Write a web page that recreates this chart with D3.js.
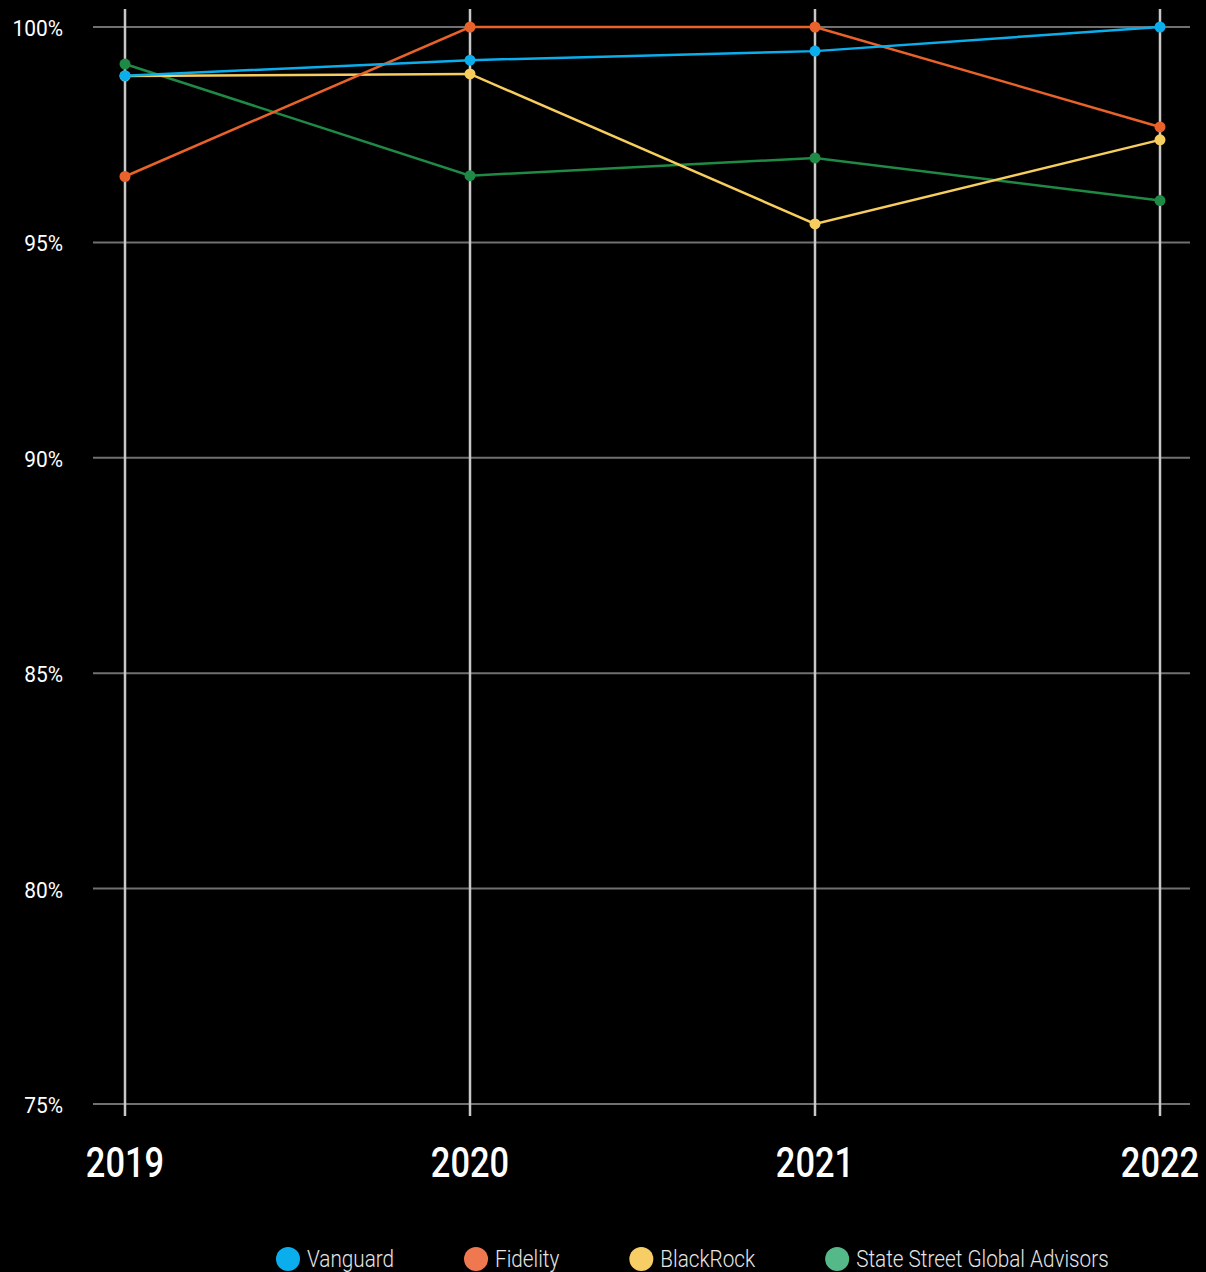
<!DOCTYPE html>
<html>
<head>
<meta charset="utf-8">
<title></title>
<script src="https://d3js.org/d3.v7.min.js"></script>
<style>
  html, body { margin: 0; padding: 0; background: #000; }
  svg { display: block; font-family: Roboto, "DejaVu Sans", sans-serif; }
</style>
</head>
<body>
<div id="chart"></div>
<script>
var years = ["2019", "2020", "2021", "2022"];
var yTicks = [75, 80, 85, 90, 95, 100];
var seriesNames = ["Vanguard", "Fidelity", "BlackRock", "State Street Global Advisors"];
var vanguard = [98.87, 99.23, 99.44, 100];
var fidelity = [96.53, 100, 100, 97.68];
var blackrock = [98.86, 98.91, 95.43, 97.38];
var stateStreet = [99.14, 96.55, 96.96, 95.97];
var lineColors = ["#0aaeec", "#e8622a", "#f7cd5e", "#1f8a45"];
var legendColors = ["#0aaeec", "#f07850", "#f7cd66", "#55b889"];

// narrow the text a bit, the original uses a condensed face
function squeeze(sel, sx) {
    sel.attr("transform", function() {
        var t = d3.select(this);
        return "translate(" + t.attr("data-x") + "," + t.attr("data-y") + ") scale(" + sx + ",1)";
    });
}

function drawChart() {
    var svg = d3.select("#chart").append("svg")
        .attr("width", 1206)
        .attr("height", 1272);

    var x = d3.scalePoint().domain(years).range([125, 1160]);
    var y = d3.scaleLinear().domain([75, 100]).range([1104, 27]);

    // horizontal grid
    svg.append("g")
        .selectAll("line")
        .data(yTicks)
        .enter().append("line")
        .attr("x1", 93).attr("x2", 1190)
        .attr("y1", function(d) { return y(d); })
        .attr("y2", function(d) { return y(d); })
        .attr("stroke", "#707070")
        .attr("stroke-width", 2);

    // vertical year lines
    svg.append("g")
        .selectAll("line")
        .data(years)
        .enter().append("line")
        .attr("x1", function(d) { return x(d); })
        .attr("x2", function(d) { return x(d); })
        .attr("y1", 9).attr("y2", 1116)
        .attr("stroke", "#c8c8c8")
        .attr("stroke-width", 2.5);

    // y labels
    svg.append("g")
        .selectAll("text")
        .data(yTicks)
        .enter().append("text")
        .attr("data-x", 63)
        .attr("data-y", function(d) { return y(d) + 9; })
        .attr("text-anchor", "end")
        .attr("fill", "#fff")
        .attr("font-size", 22)
        .text(function(d) { return d + "%"; })
        .call(squeeze, 0.95);

    // x labels
    svg.append("g")
        .selectAll("text")
        .data(years)
        .enter().append("text")
        .attr("data-x", function(d) { return x(d); })
        .attr("data-y", 1177)
        .attr("text-anchor", "middle")
        .attr("fill", "#fff")
        .attr("font-size", 42)
        .attr("font-weight", 500)
        .text(function(d) { return d; })
        .call(squeeze, 0.82);

    var allSeries = [vanguard, fidelity, blackrock, stateStreet];
    var line = d3.line()
        .x(function(d, i) { return x(years[i]); })
        .y(function(d) { return y(d); });

    for (var s = allSeries.length - 1; s >= 0; s--) {
        var g = svg.append("g");
        g.append("path")
            .attr("d", line(allSeries[s]))
            .attr("fill", "none")
            .attr("stroke", lineColors[s])
            .attr("stroke-width", 2.5);
        g.selectAll("circle")
            .data(allSeries[s])
            .enter().append("circle")
            .attr("cx", function(d, i) { return x(years[i]); })
            .attr("cy", function(d) { return y(d); })
            .attr("r", 5.5)
            .attr("fill", lineColors[s]);
    }

    // legend
    var legend = svg.append("g");
    var lx = 288;
    seriesNames.forEach(function(name, i) {
        legend.append("circle")
            .attr("cx", lx)
            .attr("cy", 1259)
            .attr("r", 12)
            .attr("fill", legendColors[i]);
        var t = legend.append("text")
            .attr("data-x", lx + 19)
            .attr("data-y", 1267)
            .attr("fill", "#e6e6e6")
            .attr("font-size", 23)
            .attr("font-weight", 300)
            .text(name)
            .call(squeeze, 0.9);
        lx = lx + 19 + t.node().getComputedTextLength() * 0.9 + 82;
    });
}

drawChart();
</script>
</body>
</html>
